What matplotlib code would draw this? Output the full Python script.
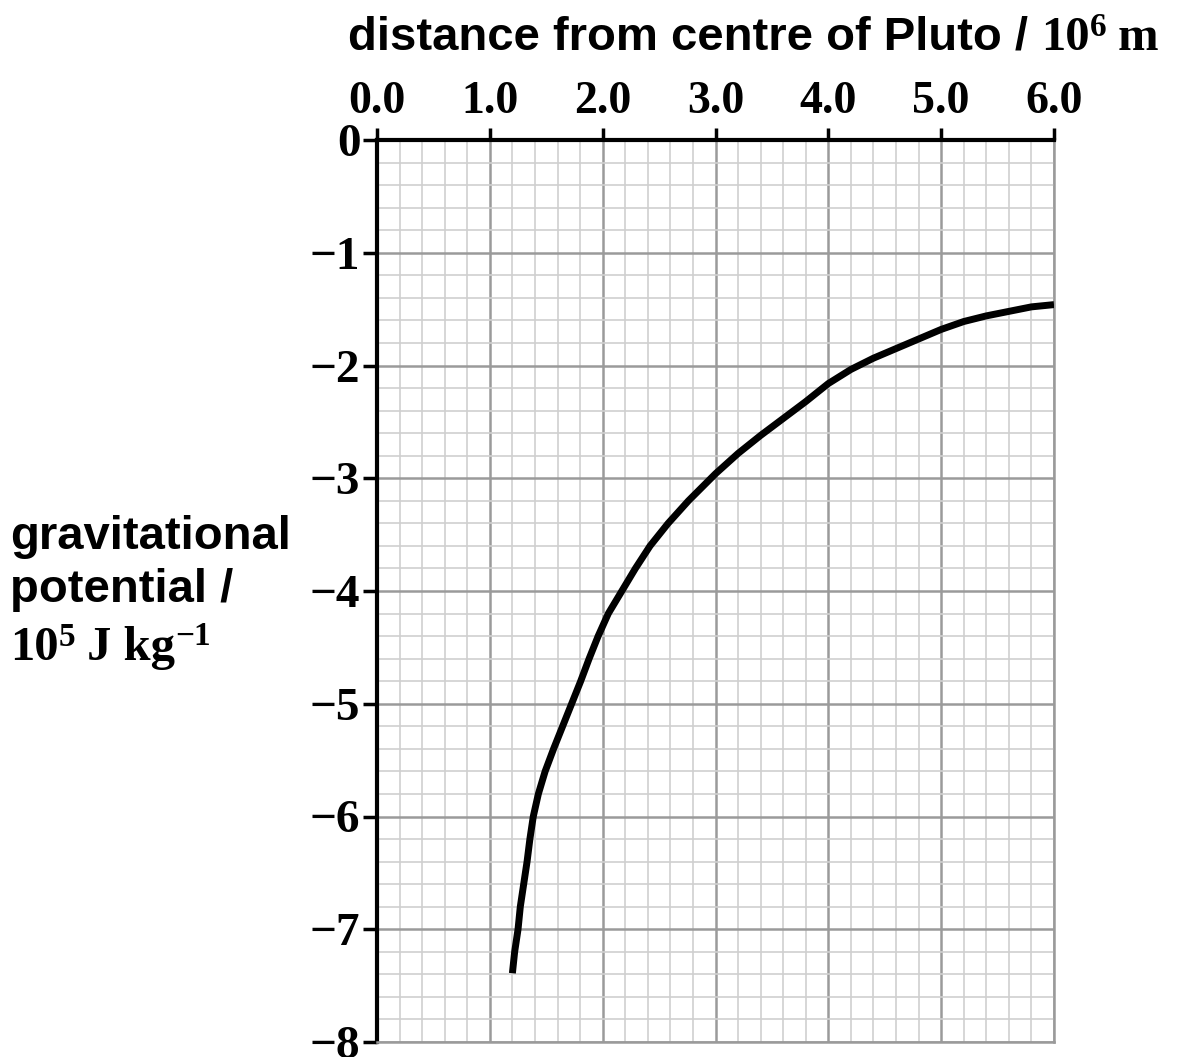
import matplotlib
matplotlib.use("Agg")
import matplotlib.pyplot as plt
from matplotlib.ticker import MultipleLocator

# Data
distance = [1.20, 1.22, 1.25, 1.27, 1.30, 1.33, 1.355, 1.385, 1.43, 1.49, 1.565,
            1.645, 1.725, 1.805, 1.88, 1.96, 2.05, 2.17, 2.29, 2.42, 2.58, 2.76,
            3.0, 3.2, 3.4, 3.6, 3.8, 4.0, 4.2, 4.4, 4.6, 4.8, 5.0, 5.2, 5.4,
            5.6, 5.8, 6.0]
potential = [-7.39, -7.2, -7.0, -6.8, -6.6, -6.4, -6.2, -6.0, -5.8, -5.6, -5.4,
             -5.2, -5.0, -4.8, -4.6, -4.4, -4.2, -4.0, -3.8, -3.6, -3.4, -3.2,
             -2.96, -2.78, -2.62, -2.47, -2.32, -2.16, -2.035, -1.935, -1.85,
             -1.765, -1.68, -1.61, -1.56, -1.52, -1.48, -1.46]
x_ticks = [0, 1, 2, 3, 4, 5, 6]
x_tick_labels = ["0.0", "1.0", "2.0", "3.0", "4.0", "5.0", "6.0"]
y_ticks = [0, -1, -2, -3, -4, -5, -6, -7, -8]
y_tick_labels = ["0", "\u22121", "\u22122", "\u22123", "\u22124", "\u22125",
                 "\u22126", "\u22127", "\u22128"]

W, H = 1177, 1057
fig = plt.figure(figsize=(W / 100, H / 100), dpi=100)
ax = fig.add_axes([377 / W, 1 - 1042 / H, (1054 - 377) / W, (1042 - 140) / H])

ax.set_xlim(0, 6)
ax.set_ylim(-8, 0)

ax.xaxis.set_minor_locator(MultipleLocator(0.2))
ax.yaxis.set_minor_locator(MultipleLocator(0.2))
ax.set_xticks(x_ticks)
ax.set_yticks(y_ticks)
ax.grid(which="minor", color="#cfcfcf", lw=1.2)
ax.grid(which="major", color="#9a9a9a", lw=1.8)
ax.set_axisbelow(True)

ax.plot(distance, potential, color="black", lw=5, solid_capstyle="butt",
        solid_joinstyle="round", zorder=3)

serif = "Liberation Serif"
sans = "Liberation Sans"

ax.xaxis.tick_top()
ax.set_xticklabels(x_tick_labels, fontfamily=serif, fontweight="bold", fontsize=33)
ax.set_yticklabels(y_tick_labels, fontfamily=serif, fontweight="bold", fontsize=34)
ax.tick_params(axis="x", which="major", direction="out", length=9, width=2.5,
               pad=3, top=True, bottom=False)
ax.tick_params(axis="y", which="major", direction="out", length=10, width=2.5, pad=2)
ax.tick_params(which="minor", length=0)

for s in ["top", "left"]:
    ax.spines[s].set_linewidth(3)
    ax.spines[s].set_color("black")
for s in ["right", "bottom"]:
    ax.spines[s].set_linewidth(1.8)
    ax.spines[s].set_color("#9a9a9a")

SANS_SIZE = 34
SERIF_SIZE = 35
SUP_SIZE = 24

# x-axis title (top)
t1 = fig.text(348 / W, 1 - 50 / H, "distance from centre of Pluto / ", fontfamily=sans,
              fontweight="bold", fontsize=SANS_SIZE, ha="left", va="baseline")
t2 = ax.annotate("10", xy=(1, 0), xycoords=t1, fontfamily=serif, fontweight="bold",
                 fontsize=SERIF_SIZE, ha="left", va="bottom", annotation_clip=False)
t3 = ax.annotate("6", xy=(1, 0.38), xycoords=t2, fontfamily=serif, fontweight="bold",
                 fontsize=SUP_SIZE, ha="left", va="bottom", annotation_clip=False)
t4 = ax.annotate(" m", xy=(1, 0), xycoords=(t3, t2), fontfamily=serif, fontweight="bold",
                 fontsize=SERIF_SIZE, ha="left", va="bottom", annotation_clip=False)

# y-axis title (left, three lines)
fig.text(10 / W, 1 - 549 / H, "gravitational", fontfamily=sans, fontweight="bold",
         fontsize=SANS_SIZE, ha="left", va="baseline")
fig.text(10 / W, 1 - 602 / H, "potential /", fontfamily=sans, fontweight="bold",
         fontsize=SANS_SIZE, ha="left", va="baseline")
y1 = fig.text(10 / W, 1 - 660 / H, "10", fontfamily=serif, fontweight="bold",
              fontsize=SERIF_SIZE, ha="left", va="baseline")
y2 = ax.annotate("5", xy=(1, 0.38), xycoords=y1, fontfamily=serif, fontweight="bold",
                 fontsize=SUP_SIZE, ha="left", va="bottom", annotation_clip=False)
y3 = ax.annotate(" J kg", xy=(1, 0), xycoords=(y2, y1), fontfamily=serif,
                 fontweight="bold", fontsize=SERIF_SIZE, ha="left", va="bottom",
                 annotation_clip=False)
y4 = ax.annotate("\u22121", xy=(1, 0.42), xycoords=y3, fontfamily=serif,
                 fontweight="bold", fontsize=SUP_SIZE, ha="left", va="bottom",
                 annotation_clip=False)

fig.savefig("out.png", dpi=100, facecolor="white")
